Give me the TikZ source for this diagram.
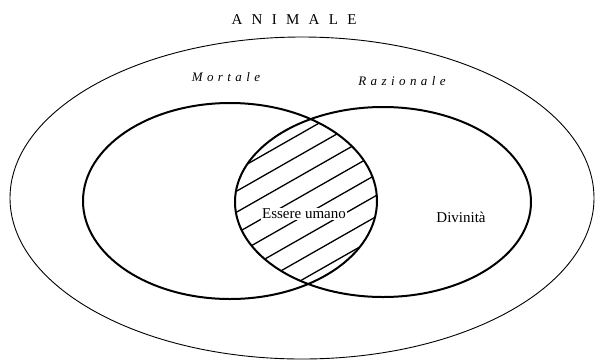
\documentclass[tikz,border=0pt]{standalone}
\usepackage{fontspec}
\setmainfont{Liberation Serif}
\usepackage{tikz}
\usetikzlibrary{positioning}

\begin{document}
\begin{tikzpicture}[x=1pt, y=-1pt, font=\fontsize{15}{18}\selectfont,
  thin set/.style={draw, line width=0.9pt},
  set/.style={draw, line width=2pt},
  hatch/.style={line width=1.3pt},
  lbl/.style={inner sep=1pt},
  ttl/.style={lbl, font=\fontsize{15}{18}\selectfont\addfontfeature{LetterSpace=62}},
  name lbl/.style={lbl, font=\fontsize{13}{15}\selectfont\itshape\addfontfeature{LetterSpace=34}}]
\useasboundingbox (0,0) rectangle (598,360);
% insiemi
\draw[thin set] (302,198) ellipse [x radius=292, y radius=161];
\draw[set] (230,201) ellipse [x radius=147, y radius=98];
\draw[set] (383,202) ellipse [x radius=148, y radius=95];
% intersezione tratteggiata
\begin{scope}
  \clip (230,201) ellipse [x radius=147, y radius=98];
  \clip (383,202) ellipse [x radius=148, y radius=95];
  \foreach \c in {92,113,...,340}
    \draw[hatch] (200,{\c+57}) -- (400,{\c-57});
\end{scope}
% etichette
\node[ttl] (animale) at (294,20) {ANIMALE};
\node[name lbl] (mortale) at (226,77) {Mortale};
\node[name lbl] (razionale) at (402,81) {Razionale};
\node[lbl, fill=white] (uomo) at (304,214) {Essere umano};
\node[lbl] (divinita) at (461,217) {Divinità};
\end{tikzpicture}
\end{document}
